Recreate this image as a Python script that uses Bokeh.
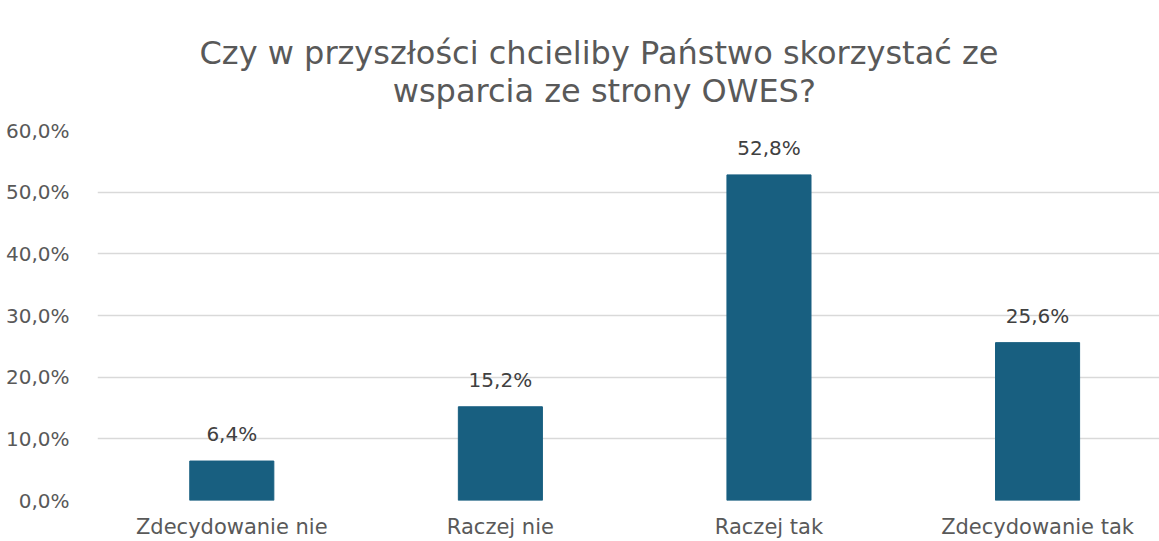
from bokeh.plotting import figure
from bokeh.models import ColumnDataSource, FixedTicker, Title, LabelSet, CustomJSTickFormatter
from bokeh.embed import file_html
from bokeh.resources import INLINE
from bokeh.core.properties import value

categories = ["Zdecydowanie nie", "Raczej nie", "Raczej tak", "Zdecydowanie tak"]
values = [6.4, 15.2, 52.8, 25.6]
value_labels = ["6,4%", "15,2%", "52,8%", "25,6%"]
y_ticks = [0, 10, 20, 30, 40, 50, 60]
title_lines = ["Czy w przyszłości chcieliby Państwo skorzystać ze", "wsparcia ze strony OWES?"]

FONT = "DejaVu Sans"
xs = list(range(1, len(categories) + 1))
src = ColumnDataSource(dict(x=xs, top=values, lab=value_labels))

p = figure(width=1159, height=541, output_backend="svg", toolbar_location=None,
           x_range=(0.5, 4.454), y_range=(0, 60),
           min_border_left=97, min_border_right=0, min_border_top=130, min_border_bottom=41)
p.outline_line_color = None
p.background_fill_color = "white"

p.vbar(x="x", top="top", width=0.313, source=src, color="#185F80")

labels = LabelSet(x="x", y="top", text="lab", source=src, text_align="center",
                  text_baseline="bottom", y_offset=15, text_font=value(FONT),
                  text_font_size="20px", text_color="#404040")
p.add_layout(labels)

# two-line title; second line indented with non-breaking spaces to centre it
pad = "\u00a0" * 19
p.title = None
t = Title(text=title_lines[0] + "\n" + pad + title_lines[1], align="left", offset=102,
          standoff=42, text_font=FONT, text_font_size="32px", text_font_style="normal",
          text_color="#595959", text_line_height=1.0)
p.add_layout(t, "above")

p.xaxis.ticker = FixedTicker(ticks=xs)
p.xaxis.major_label_overrides = {i: c for i, c in zip(xs, categories)}
p.xaxis.axis_line_color = None
p.xaxis.major_tick_line_color = None
p.xaxis.minor_tick_line_color = None
p.xaxis.major_label_text_font = FONT
p.xaxis.major_label_text_font_size = "21px"
p.xaxis.major_label_text_color = "#595959"
p.xaxis.major_label_standoff = 8
p.xgrid.grid_line_color = None

p.yaxis.ticker = FixedTicker(ticks=y_ticks)
p.yaxis.formatter = CustomJSTickFormatter(code="return tick.toFixed(1).replace('.', ',') + '%';")
p.yaxis.axis_line_color = None
p.yaxis.major_tick_line_color = None
p.yaxis.minor_tick_line_color = None
p.yaxis.major_label_text_font = FONT
p.yaxis.major_label_text_font_size = "20px"
p.yaxis.major_label_text_color = "#595959"
p.yaxis.major_label_standoff = 22
p.ygrid.grid_line_color = "#D9D9D9"
p.ygrid.grid_line_width = 1.5

open("out.html", "w").write(file_html(p, INLINE))
